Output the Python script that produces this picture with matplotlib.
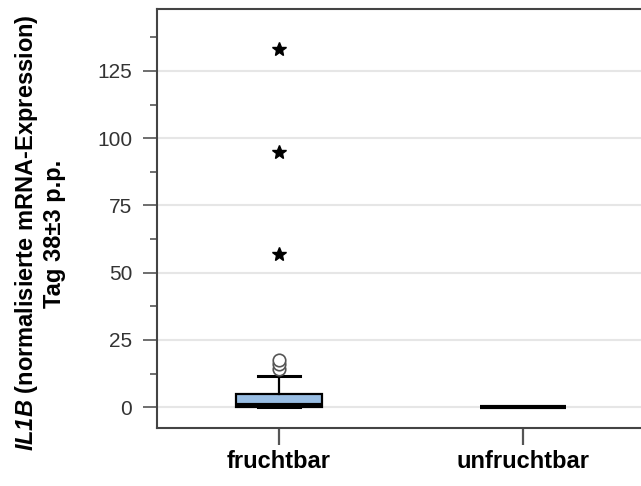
import numpy as np
import matplotlib.pyplot as plt

plt.rcParams['font.family'] = ['Liberation Sans', 'DejaVu Sans']
plt.rcParams['mathtext.fontset'] = 'custom'
plt.rcParams['mathtext.bfit'] = 'Liberation Sans:bold:italic'
plt.rcParams['mathtext.bf'] = 'Liberation Sans:bold'
plt.rcParams['mathtext.it'] = 'Liberation Sans:italic'
plt.rcParams['mathtext.rm'] = 'Liberation Sans'

# Gruppen und Boxplot-Kennwerte
groups = ['fruchtbar', 'unfruchtbar']
whislo = [0.0, 0.0]
q1 = [0.2, 0.0]
med = [0.7, 0.0]
q3 = [4.8, 0.0]
whishi = [11.5, 0.0]
outliers = [[14.3, 15.9, 17.4], []]      # Kreise
extremes = [[57.0, 95.0, 133.0], []]     # Sterne

yticks = [0, 25, 50, 75, 100, 125]

fig = plt.figure(figsize=(6.41, 4.86), dpi=100)
ax = fig.add_axes([0.245, 0.119, 0.757, 0.8625])

stats = []
for i, g in enumerate(groups):
    stats.append(dict(label=g, whislo=whislo[i], q1=q1[i], med=med[i],
                      q3=q3[i], whishi=whishi[i], fliers=[]))

pos = np.arange(1, len(groups) + 1)
ax.bxp(stats, positions=pos, widths=0.355, patch_artist=True,
       boxprops=dict(facecolor='#98bde3', edgecolor='black', linewidth=1.6),
       medianprops=dict(color='black', linewidth=3),
       whiskerprops=dict(color='black', linewidth=1.6),
       capprops=dict(color='black', linewidth=2.2),
       capwidths=[0.17, 0.0], zorder=3)

for i in range(len(groups)):
    if outliers[i]:
        ax.plot([pos[i]] * len(outliers[i]), outliers[i], 'o', ms=9,
                mfc='white', mec='#555555', mew=1.2, zorder=4)
    if extremes[i]:
        ax.plot([pos[i]] * len(extremes[i]), extremes[i], '*', ms=10,
                color='black', zorder=4)

ax.set_xlim(0.5, 2.49)
ax.set_ylim(-7.8, 148)
ax.set_yticks(yticks)
ax.set_yticks(np.arange(12.5, 140, 25), minor=True)
ax.set_xticks(pos)
ax.set_xticklabels(groups, fontsize=17, fontweight='bold')
ax.tick_params(axis='x', length=12, width=1.6, pad=4, color='#555555')
ax.tick_params(axis='y', which='major', length=10, width=1.2, pad=8,
               labelsize=15, labelcolor='#333333', color='#555555')
ax.tick_params(axis='y', which='minor', length=5, width=1.2, color='#555555')

ax.grid(axis='y', color='#e6e6e6', linewidth=1.5, zorder=0)
ax.set_axisbelow(True)
for s in ['left', 'top', 'bottom']:
    ax.spines[s].set_linewidth(1.5)
    ax.spines[s].set_color('#444444')
ax.spines['right'].set_visible(False)

fig.text(27 / 641, 1 - 233 / 486, r'$\mathbfit{IL1B}$ (normalisierte mRNA-Expression)',
         rotation=90, ha='center', va='center', fontsize=17, fontweight='bold')
fig.text(54 / 641, 1 - 234 / 486, 'Tag 38±3 p.p.', rotation=90,
         ha='center', va='center', fontsize=17, fontweight='bold')

fig.savefig('out.png', dpi=100)
